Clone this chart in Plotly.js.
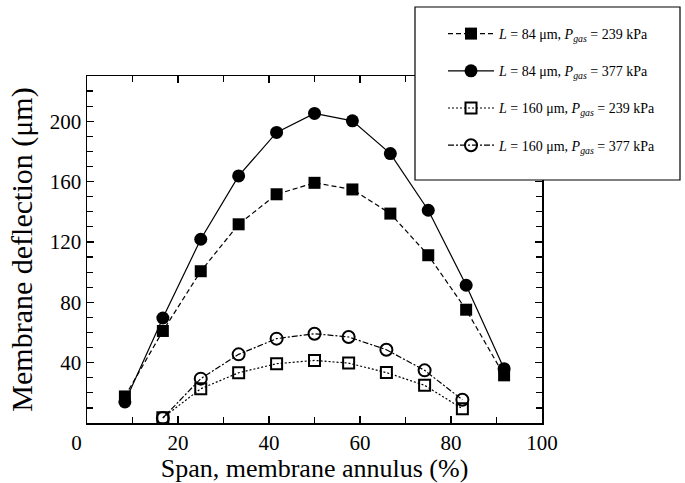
<!DOCTYPE html>
<html>
<head>
<meta charset="utf-8">
<script src="https://cdn.plot.ly/plotly-3.0.1.min.js"></script>
<style>html,body{margin:0;padding:0;background:#fff}#chart{width:685px;height:483px}</style>
</head>
<body>
<div id="chart"></div>
<script>
// Data
const spanA = [8.33, 16.67, 25, 33.33, 41.67, 50, 58.33, 66.67, 75, 83.33, 91.67];
const defl84_239 = [17.6, 61, 100.6, 131.7, 151.6, 159.2, 154.8, 138.8, 111.2, 75.1, 31.6];
const defl84_377 = [14, 69.6, 121.8, 163.8, 192.6, 205.2, 200.3, 178.6, 141, 91.3, 36];
const spanB = [16.67, 25, 33.33, 41.67, 50, 57.5, 65.8, 74.2, 82.5];
const defl160_239 = [3.5, 22.7, 33.3, 39.3, 41.5, 39.7, 33.4, 25, 9.5];
const defl160_377 = [3.3, 29.4, 45.5, 55.9, 59.2, 57, 48.6, 34.9, 15.4];
const names = [
  '<i>L</i> = 84 μm, <i>P</i><sub><i>gas</i></sub> = 239 kPa',
  '<i>L</i> = 84 μm, <i>P</i><sub><i>gas</i></sub> = 377 kPa',
  '<i>L</i> = 160 μm, <i>P</i><sub><i>gas</i></sub> = 239 kPa',
  '<i>L</i> = 160 μm, <i>P</i><sub><i>gas</i></sub> = 377 kPa'
];
const xTickVals = [0, 20, 40, 60, 80, 100];
const xTickText = ['0\u00a0\u00a0\u00a0\u00a0', '20', '40', '60', '80', '100'];
const yTickVals = [40, 80, 120, 160, 200];
const xTitle = 'Span, membrane annulus (%)';
const yTitle = 'Membrane deflection (μm)\u00a0\u00a0\u00a0\u00a0';

const font = 'Liberation Serif, Times New Roman, serif';
const traces = [
  {x: spanA, y: defl84_239, name: names[0], legendgroup: 'a', mode: 'lines+markers',
   line: {color: '#000', width: 1.2, dash: '5px,3px'},
   marker: {symbol: 'square', size: 12, color: '#000'}},
  {x: spanA, y: defl84_377, name: names[1], legendgroup: 'b', mode: 'lines+markers',
   line: {color: '#000', width: 1.2, dash: 'solid'},
   marker: {symbol: 'circle', size: 13, color: '#000'}},
  {x: spanB, y: defl160_239, name: names[2], legendgroup: 'c', mode: 'lines+markers',
   line: {color: '#000', width: 1.2, dash: '2px,2px'},
   marker: {symbol: 'square-open', size: 11, color: '#000', line: {width: 2}}},
  {x: spanB, y: defl160_377, name: names[3], legendgroup: 'd', mode: 'lines+markers',
   line: {color: '#000', width: 1.2, dash: '6px,2px,2px,2px'},
   marker: {symbol: 'circle-open', size: 12, color: '#000', line: {width: 2}}}
];

const axisCommon = {
  showgrid: false, zeroline: false, showline: true, linecolor: '#000', linewidth: 1.5,
  mirror: 'allticks', ticks: 'inside', ticklen: 7, tickwidth: 1.2, tickcolor: '#000',
  tickfont: {family: font, size: 21, color: '#000'},
  minor: {dtick: 10, ticks: 'inside', ticklen: 6, tickwidth: 1.2, tickcolor: '#000'}
};

const layout = {
  width: 685, height: 483,
  margin: {l: 87, r: 143, t: 76, b: 60},
  paper_bgcolor: '#fff', plot_bgcolor: '#fff',
  font: {family: font, color: '#000'},
  xaxis: Object.assign({}, axisCommon, {
    range: [0, 100], tickmode: 'array', tickvals: xTickVals, ticktext: xTickText,
    minor: Object.assign({}, axisCommon.minor, {tick0: 0}),
    title: {text: xTitle, font: {family: font, size: 26, color: '#000'}, standoff: 4}
  }),
  yaxis: Object.assign({}, axisCommon, {
    range: [0, 230], tickmode: 'array', tickvals: yTickVals,
    minor: Object.assign({}, axisCommon.minor, {tick0: 0}),
    title: {text: yTitle, font: {family: font, size: 30, color: '#000'}, standoff: 8}
  }),
  showlegend: true,
  legend: {
    x: (443-87)/455, xanchor: 'left', y: (423-18)/347, yanchor: 'top',
    bgcolor: 'rgba(0,0,0,0)', borderwidth: 0,
    font: {family: font, size: 14, color: '#000'},
    itemwidth: 46, tracegroupgap: 16, traceorder: 'grouped'
  },
  shapes: [{
    type: 'rect', xref: 'paper', yref: 'paper',
    x0: (415-87)/455, x1: (680-87)/455, y0: (423-180)/347, y1: (423-7)/347,
    line: {color: '#000', width: 1.2}, fillcolor: '#fff', layer: 'above'
  }]
};

Plotly.newPlot('chart', traces, layout, {displayModeBar: false, staticPlot: true});
</script>
</body>
</html>
